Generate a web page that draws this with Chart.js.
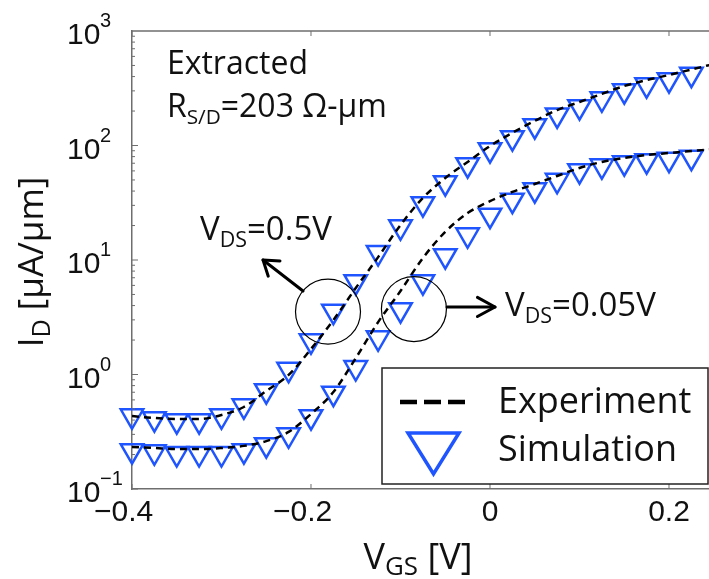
<!DOCTYPE html>
<html>
<head>
<meta charset="utf-8">
<script src="https://cdn.jsdelivr.net/npm/chart.js@4/dist/chart.umd.min.js"></script>
<style>
html,body{margin:0;padding:0;background:#fff;overflow:hidden;}
#wrap{width:709px;height:579px;position:relative;}
canvas{display:block;}
</style>
</head>
<body>
<div id="wrap"><canvas id="c" width="709" height="579"></canvas></div>
<script>
// ---------- data ----------
const vgs = [-0.4,-0.375,-0.35,-0.325,-0.3,-0.275,-0.25,-0.225,-0.2,-0.175,-0.15,-0.125,-0.1,-0.075,-0.05,-0.025,0,0.025,0.05,0.075,0.1,0.125,0.15,0.175,0.2,0.225];
const vgsExp = [-0.4,-0.375,-0.35,-0.325,-0.3,-0.275,-0.25,-0.225,-0.2,-0.175,-0.15,-0.125,-0.1,-0.075,-0.05,-0.025,0,0.025,0.05,0.075,0.1,0.125,0.15,0.175,0.2,0.225,0.25];
const simHigh = [0.436,0.411,0.395,0.395,0.436,0.533,0.722,1.11,1.97,3.57,6.46,11.6,19.5,31.0,47.3,68.0,91.9,117,149,185,218,256,301,339,376,420];
const simLow  = [0.216,0.211,0.204,0.204,0.204,0.216,0.244,0.297,0.428,0.686,1.15,2.09,3.68,6.46,10.9,16.6,24.6,33.3,41.1,49.7,60.2,66.5,70.7,73.6,75.9,79.0];
const expHigh = [0.434,0.417,0.409,0.409,0.443,0.520,0.718,0.991,1.67,2.99,5.69,10.6,20.2,34.8,52.0,71.8,99,129,164,204,240,282,331,373,413,461,515];
const expLow  = [0.233,0.228,0.223,0.223,0.228,0.238,0.262,0.315,0.452,0.703,1.39,2.87,5.36,10.4,17.6,25.7,32.7,39.3,46.1,54.2,63.6,71.8,77.8,82.6,86.0,89.5,93.1];
const xTicks = [-0.4,-0.2,0,0.2];
const xTickLabels = ['\u22120.4','\u22120.2','0','0.2'];
const yTicks = [0.1,1,10,100,1000];
const yTickExps = ['\u22121','0','1','2','3'];
const legendLabels = ['Experiment','Simulation'];
const xTitle = [['V',false],['GS',true],[' [V]',false]];
const yTitle = [['I',false],['D',true],[' [\u03bcA/\u03bcm]',false]];
const noteLines = [[['Extracted',false]],[['R',false],['S/D',true],['=203 \u03a9-\u03bcm',false]]];
const vdsHighLabel = [['V',false],['DS',true],['=0.5V',false]];
const vdsLowLabel = [['V',false],['DS',true],['=0.05V',false]];

// ---------- styling ----------
const BLUE = '#1f55ff';
const AXIS = '#6e6e6e';
const TXT = '#111';
const SANS = '"Open Sans", "Noto Sans", sans-serif';
const HELV = '"Liberation Sans", Arial, sans-serif';

const pts = (xs, ys) => ys.map((v, i) => ({x: xs[i], y: v}));

function rich(ctx, parts, x, y, size, align, subRatio, subOff) {
  subRatio = subRatio || 0.65; subOff = subOff || 0.22;
  let w = 0;
  parts.forEach(([t, s]) => { ctx.font = (s ? size*subRatio : size) + 'px ' + SANS; w += ctx.measureText(t).width; });
  let cx = align === 'center' ? x - w/2 : x;
  ctx.textAlign = 'left'; ctx.textBaseline = 'alphabetic';
  parts.forEach(([t, s]) => {
    ctx.font = (s ? size*subRatio : size) + 'px ' + SANS;
    ctx.fillText(t, cx, s ? y + size*subOff : y);
    cx += ctx.measureText(t).width;
  });
}

function arrow(ctx, x1, y1, x2, y2, head, half, lw) {
  ctx.save();
  ctx.strokeStyle = '#000'; ctx.lineWidth = lw; ctx.lineCap = 'round'; ctx.lineJoin = 'round';
  ctx.beginPath(); ctx.moveTo(x1, y1); ctx.lineTo(x2, y2); ctx.stroke();
  const a = Math.atan2(y2 - y1, x2 - x1);
  ctx.beginPath();
  ctx.moveTo(x2 - head*Math.cos(a - half), y2 - head*Math.sin(a - half));
  ctx.lineTo(x2, y2);
  ctx.lineTo(x2 - head*Math.cos(a + half), y2 - head*Math.sin(a + half));
  ctx.stroke();
  ctx.restore();
}

const decor = {
  id: 'decor',
  afterDraw(chart) {
    const ctx = chart.ctx, xs = chart.scales.x, ys = chart.scales.y, ca = chart.chartArea;
    const P = (x, y) => [xs.getPixelForValue(x), ys.getPixelForValue(y)];
    ctx.save();
    // top border
    ctx.strokeStyle = AXIS; ctx.lineWidth = 1.5;
    ctx.beginPath(); ctx.moveTo(ca.left, ca.top); ctx.lineTo(ca.right, ca.top); ctx.stroke();
    // x ticks (inward, bottom and top)
    ctx.lineWidth = 1;
    xTicks.forEach(v => {
      const px = xs.getPixelForValue(v);
      ctx.beginPath(); ctx.moveTo(px, ca.bottom); ctx.lineTo(px, ca.bottom - 5); ctx.stroke();
      ctx.beginPath(); ctx.moveTo(px, ca.top); ctx.lineTo(px, ca.top + 5); ctx.stroke();
    });
    // y ticks (log, inward)
    for (let d = -1; d <= 2; d++) {
      for (let m = 1; m <= 9; m++) {
        const v = m * Math.pow(10, d);
        const py = ys.getPixelForValue(v);
        ctx.beginPath(); ctx.moveTo(ca.left, py); ctx.lineTo(ca.left + (m === 1 ? 6 : 3), py); ctx.stroke();
      }
    }
    // y tick labels 10^n
    ctx.fillStyle = TXT; ctx.textAlign = 'left'; ctx.textBaseline = 'alphabetic';
    yTicks.forEach((v, i) => {
      const py = ys.getPixelForValue(v);
      ctx.font = '30px ' + HELV;
      ctx.fillText('10', 67, py + 13);
      ctx.font = '20px ' + HELV;
      ctx.fillText(yTickExps[i], 100, py - 4);
    });
    // axis titles
    ctx.fillStyle = TXT;
    rich(ctx, xTitle, 418, 569, 36, 'center', 0.72, 0.16);
    ctx.save();
    ctx.translate(43, (ca.top + ca.bottom) / 2 + 2);
    ctx.rotate(-Math.PI / 2);
    rich(ctx, yTitle, 0, 0, 35, 'center', 0.72, 0.2);
    ctx.restore();
    // note text
    let p = P(-0.361, 421);
    rich(ctx, noteLines[0], p[0], p[1], 32, 'left');
    p = P(-0.361, 177);
    rich(ctx, noteLines[1], p[0], p[1], 32, 'left');
    // circles
    ctx.strokeStyle = '#000'; ctx.lineWidth = 1.2;
    [[-0.181, 3.54], [-0.085, 3.73]].forEach(c => {
      const q = P(c[0], c[1]);
      ctx.beginPath(); ctx.arc(q[0], q[1], 32.5, 0, Math.PI * 2); ctx.stroke();
    });
    // arrows
    let a1 = P(-0.2089, 5.36), a2 = P(-0.2536, 10.0);
    arrow(ctx, a1[0], a1[1], a2[0], a2[1], 17, 0.6, 3);
    a1 = P(-0.048, 3.89); a2 = P(0.0056, 3.89);
    arrow(ctx, a1[0], a1[1], a2[0], a2[1], 20, 0.5, 3);
    // VDS labels
    ctx.fillStyle = TXT;
    p = P(-0.324, 14.95);
    rich(ctx, vdsHighLabel, p[0], p[1], 33, 'left');
    p = P(0.0168, 3.24);
    rich(ctx, vdsLowLabel, p[0], p[1], 33, 'left');
    // legend box
    const L = 382, T = 368, R = 708, B = 484;
    ctx.fillStyle = '#fff'; ctx.fillRect(L, T, R - L, B - T);
    ctx.strokeStyle = '#222'; ctx.lineWidth = 1.5; ctx.strokeRect(L, T, R - L, B - T);
    ctx.strokeStyle = '#000'; ctx.lineWidth = 4.5; ctx.setLineDash([17, 7]);
    ctx.beginPath(); ctx.moveTo(400, 402); ctx.lineTo(468, 402); ctx.stroke();
    ctx.setLineDash([]);
    ctx.strokeStyle = BLUE; ctx.lineWidth = 3.5; ctx.lineJoin = 'miter';
    ctx.beginPath(); ctx.moveTo(408, 433); ctx.lineTo(459, 433); ctx.lineTo(433.5, 474); ctx.closePath(); ctx.stroke();
    ctx.fillStyle = TXT;
    rich(ctx, [[legendLabels[0], false]], 498, 413, 36, 'left');
    rich(ctx, [[legendLabels[1], false]], 498, 461, 36, 'left');
    ctx.restore();
  }
};

const simStyle = {
  showLine: false, pointStyle: 'triangle', rotation: 180, pointRadius: 13,
  pointBorderColor: BLUE, pointBackgroundColor: 'rgba(0,0,0,0)', pointBorderWidth: 2.5,
  clip: false, order: 1
};
const expStyle = {
  showLine: true, borderColor: '#000', borderWidth: 2.5, borderDash: [7, 5],
  pointRadius: 0, cubicInterpolationMode: 'monotone', order: 0, fill: false
};

new Chart(document.getElementById('c'), {
  type: 'scatter',
  data: {
    datasets: [
      Object.assign({label: 'Simulation 0.5V', data: pts(vgs, simHigh)}, simStyle),
      Object.assign({label: 'Simulation 0.05V', data: pts(vgs, simLow)}, simStyle),
      Object.assign({label: 'Experiment 0.5V', data: pts(vgsExp, expHigh)}, expStyle),
      Object.assign({label: 'Experiment 0.05V', data: pts(vgsExp, expLow)}, expStyle)
    ]
  },
  options: {
    responsive: false, animation: false, devicePixelRatio: 1, events: [],
    layout: {autoPadding: false, padding: {top: 31, left: 0, right: 0, bottom: 0}},
    plugins: {legend: {display: false}, tooltip: {enabled: false}},
    scales: {
      x: {
        type: 'linear', position: 'bottom', min: -0.4, max: 0.2447,
        afterBuildTicks: s => { s.ticks = xTicks.map(v => ({value: v})); },
        afterFit: s => { s.height = 90; s.paddingLeft = 0; s.paddingRight = 0; },
        grid: {display: false, drawTicks: false},
        border: {display: true, color: AXIS, width: 1.5},
        ticks: {
          font: {family: 'Liberation Sans', size: 30}, color: TXT, padding: 6, maxRotation: 0, autoSkip: false,
          callback: (v) => { const i = xTicks.indexOf(v); return i < 0 ? '' : (v < 0 ? xTickLabels[i] + '\u2007' : xTickLabels[i]); }
        }
      },
      y: {
        type: 'logarithmic', position: 'left', min: 0.1, max: 1000,
        afterFit: s => { s.width = 132; },
        grid: {display: false, drawTicks: false},
        border: {display: true, color: AXIS, width: 1.5},
        ticks: {display: false}
      }
    }
  },
  plugins: [decor]
});
</script>
</body>
</html>
